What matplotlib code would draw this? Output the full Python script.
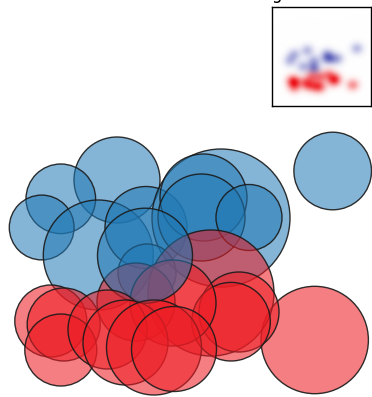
import numpy as np
from matplotlib import pyplot as plt
from matplotlib.patches import Circle

# circle centres / radii (pixel-like units, y grows downward)
blue_x = [332.7, 117.0, 60.8, 41.7, 98.3, 146.0, 221.0, 203.5, 201.5, 249.0, 147.0]
blue_y = [171.0, 180.0, 198.8, 227.5, 255.0, 227.5, 218.0, 197.5, 217.5, 217.5, 273.0]
blue_r = [38.8, 43.0, 34.8, 32.4, 55.0, 41.0, 69.0, 43.5, 43.5, 33.0, 29.0]

red_x = [314.7, 211.0, 239.0, 231.0, 136.0, 173.0, 50.8, 63.7, 60.8, 107.5, 125.5, 154.0, 174.0]
red_y = [340.0, 293.0, 312.0, 321.7, 302.0, 303.0, 321.0, 324.5, 350.0, 329.5, 342.5, 347.5, 349.0]
red_r = [53.7, 63.0, 40.0, 39.3, 39.0, 43.0, 36.0, 36.5, 36.0, 39.5, 42.5, 47.5, 42.5]

# the dark-rimmed blue one in the middle
mid_x, mid_y, mid_r = 145.0, 255.7, 47.5

blue_face = (0.12, 0.47, 0.71, 0.55)
red_face = (0.93, 0.11, 0.14, 0.57)
edge = (0.1, 0.1, 0.1, 0.9)

fig = plt.figure(figsize=(3.72, 3.97), dpi=100)
ax = fig.add_axes([0, 0, 1, 1])
ax.set_xlim(0, 372)
ax.set_ylim(397, 0)
ax.set_aspect('equal')
ax.axis('off')

for x, y, r in zip(blue_x, blue_y, blue_r):
    ax.add_patch(Circle((x, y), r, fc=blue_face, ec=edge, lw=1.0))
for x, y, r in zip(red_x[:6], red_y[:6], red_r[:6]):
    ax.add_patch(Circle((x, y), r, fc=red_face, ec=edge, lw=1.0))
ax.add_patch(Circle((mid_x, mid_y), mid_r, fc=blue_face, ec=edge, lw=1.0))
for x, y, r in zip(red_x[6:], red_y[6:], red_r[6:]):
    ax.add_patch(Circle((x, y), r, fc=red_face, ec=edge, lw=1.0))

# small density map of the same points
gx = np.linspace(-35, 392, 120)
gy = np.linspace(-20, 436, 120)
X, Y = np.meshgrid(gx, gy)
sig = 19.0

def dens(xs, ys):
    d = np.zeros_like(X)
    for x, y in zip(xs, ys):
        d += np.exp(-((X - x) ** 2 + (Y - y) ** 2) / (2 * sig ** 2))
    return d

db = dens(blue_x + [mid_x], blue_y + [mid_y])
dr = dens(red_x, red_y)
top = max(db.max(), dr.max())
ab = np.clip(0.85 * db / top, 0, 1)[..., None]
ar = np.clip(1.1 * dr / top, 0, 1)[..., None]
img = np.ones(X.shape + (3,))
img = img * (1 - ab) + np.array([0.25, 0.27, 0.68]) * ab
img = img * (1 - ar) + np.array([0.93, 0.08, 0.1]) * ar

ins = fig.add_axes([272 / 372, 1 - 106 / 397, 99 / 372, 99 / 397])
ins.imshow(img, extent=[gx[0], gx[-1], gy[-1], gy[0]], aspect='auto',
           interpolation='bilinear')
ins.set_xticks([])
ins.set_yticks([])
for s in ins.spines.values():
    s.set_linewidth(1.0)

fig.text(271 / 372, 1 + 1 / 397, 'g', fontsize=12, va='baseline', ha='left')

fig.savefig('out.png', dpi=100)
